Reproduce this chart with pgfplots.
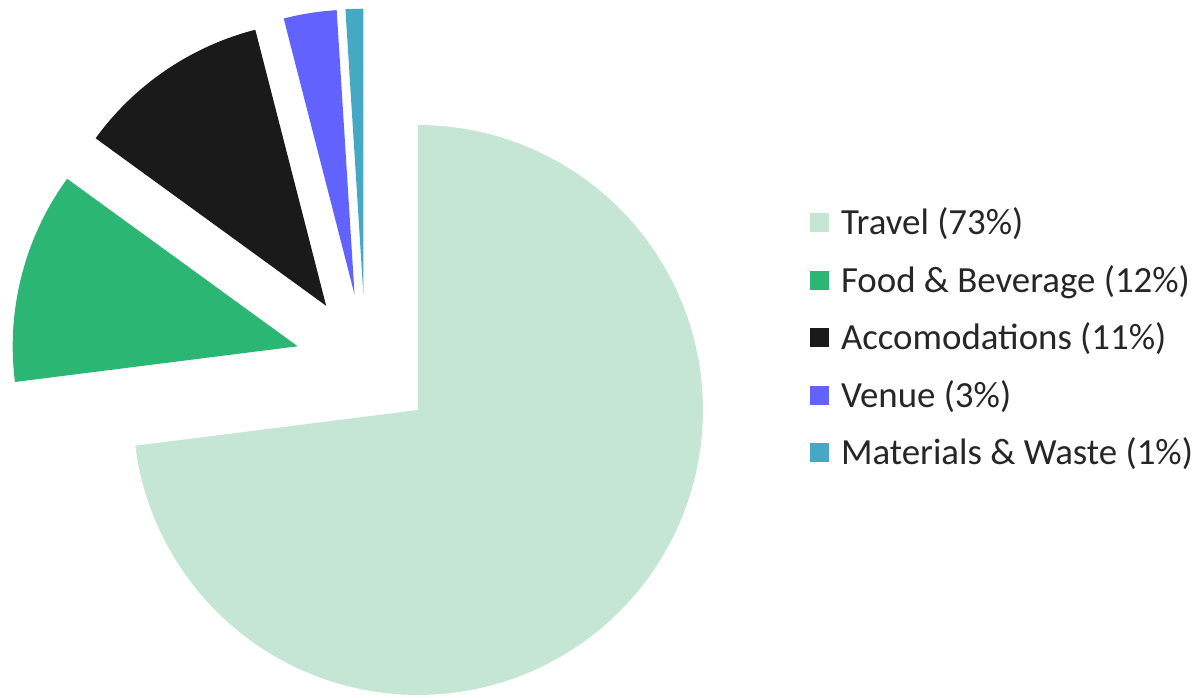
\documentclass[border=0pt]{standalone}
\usepackage{fontspec}
\setmainfont{Carlito}
\usepackage{pgfplots}
\pgfplotsset{compat=1.18}

\definecolor{travel}{HTML}{C5E5D5}
\definecolor{food}{HTML}{2BB673}
\definecolor{accom}{HTML}{1A1A1A}
\definecolor{venue}{HTML}{6262FF}
\definecolor{material}{HTML}{45A9C4}

% pie geometry (1 unit = 1bp)
\def\cx{365.5}
\def\cy{334.3}
\def\rad{285}
\def\expl{70}

% one slice: colour, percent share, legend text
\newcommand{\slice}[3]{%
  \pgfmathsetmacro\angB{\angA-3.6*#2}%
  \pgfmathsetmacro\angM{(\angA+\angB)/2}%
  \pgfmathsetmacro\ox{\cx+\expl*cos(\angM)}%
  \pgfmathsetmacro\oy{\cy+\expl*sin(\angM)}%
  \edef\temp{\noexpand\addplot[fill=#1, draw=none, domain=\angB:\angA, samples=90, variable=\noexpand\t]
    ({\ox+\rad*cos(\noexpand\t)}, {\oy+\rad*sin(\noexpand\t)}) -- (axis cs:\ox,\oy) -- cycle;}%
  \temp
  \addlegendentry{#3}%
  \global\let\angA\angB
}

\begin{document}
\begin{tikzpicture}
\begin{axis}[
  x=1bp, y=1bp,
  xmin=0, xmax=1201, ymin=0, ymax=698,
  scale only axis,
  axis line style={draw=none},
  ticks=none,
  clip=false,
  legend cell align=left,
  legend image code/.code={\fill[#1] (0bp,-9.5bp) rectangle (19bp,9.5bp);},
  legend style={
    at={(axis cs:810,360)}, anchor=west,
    draw=none, fill=none, inner sep=0pt, outer sep=0pt,
    row sep=24.5bp, column sep=12bp,
    font=\fontsize{37}{42}\selectfont,
    text=black!85,
    nodes={inner sep=0pt, text height=28.5bp, text depth=4.5bp},
  },
]
\gdef\angA{90}
\slice{travel}{73}{Travel (73\%)}
\slice{food}{12}{Food \& Beverage (12\%)}
\slice{accom}{11}{Accomodations (11\%)}
\slice{venue}{3}{Venue (3\%)}
\slice{material}{1}{Materials \& Waste (1\%)}
\end{axis}
\end{tikzpicture}
\end{document}
